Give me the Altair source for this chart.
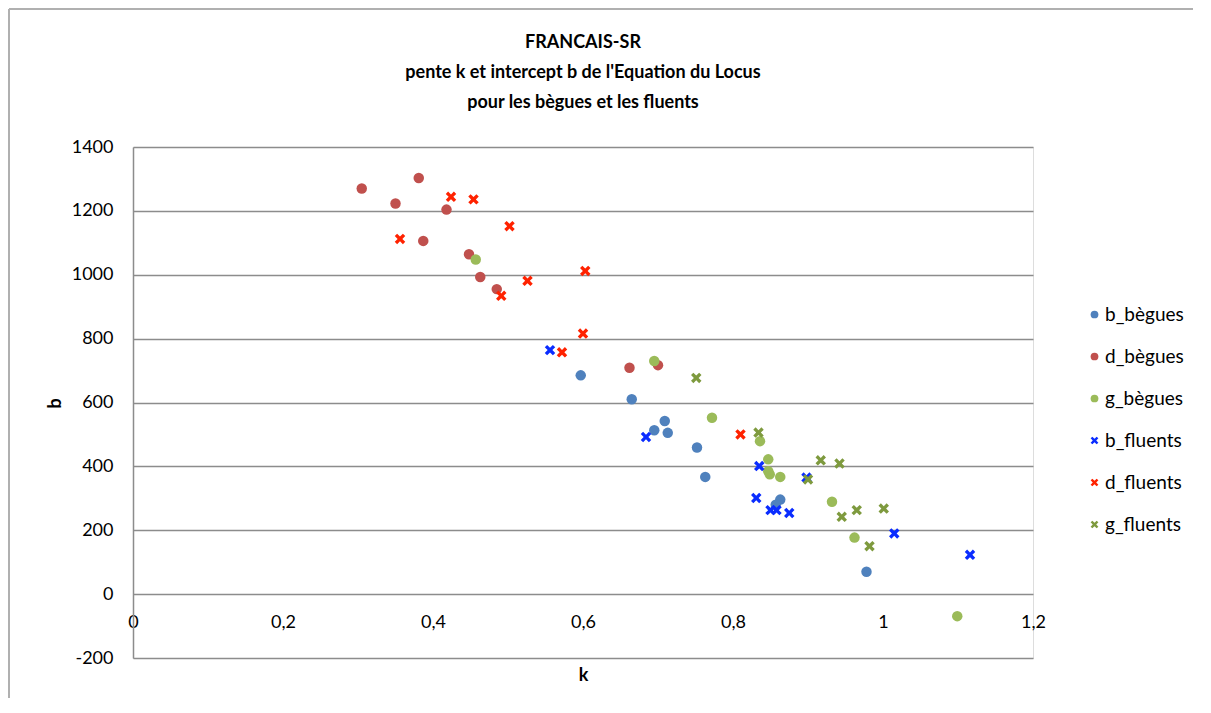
import altair as alt
import pandas as pd

# ---- data ----
b_begues_k = [0.597, 0.665, 0.709, 0.695, 0.713, 0.752, 0.763, 0.863, 0.857, 0.978]
b_begues_b = [685, 610, 542, 513, 505, 459, 367, 296, 280, 70]

d_begues_k = [0.305, 0.381, 0.350, 0.418, 0.387, 0.448, 0.463, 0.485, 0.662, 0.700]
d_begues_b = [1270, 1303, 1223, 1204, 1106, 1064, 993, 955, 709, 717]

g_begues_k = [0.457, 0.695, 0.772, 0.836, 0.847, 0.847, 0.849, 0.863, 0.932, 0.962, 1.099]
g_begues_b = [1048, 730, 552, 479, 422, 385, 375, 367, 289, 177, -69]

b_fluents_k = [0.556, 0.684, 0.835, 0.898, 0.831, 0.850, 0.858, 0.875, 1.015, 1.116]
b_fluents_b = [764, 492, 401, 365, 301, 263, 263, 254, 190, 123]

d_fluents_k = [0.424, 0.454, 0.502, 0.356, 0.603, 0.526, 0.491, 0.600, 0.572, 0.810]
d_fluents_b = [1244, 1236, 1152, 1112, 1012, 981, 934, 816, 757, 500]

g_fluents_k = [0.751, 0.834, 0.917, 0.942, 0.900, 0.965, 0.945, 1.001, 0.982]
g_fluents_b = [677, 506, 419, 409, 359, 263, 242, 268, 150]

series_names = ["b_bègues", "d_bègues", "g_bègues", "b_fluents", "d_fluents", "g_fluents"]
series_k = [b_begues_k, d_begues_k, g_begues_k, b_fluents_k, d_fluents_k, g_fluents_k]
series_b = [b_begues_b, d_begues_b, g_begues_b, b_fluents_b, d_fluents_b, g_fluents_b]
series_colors = ["#4F81BD", "#C0504D", "#9BBB59", "#0A2CFF", "#FF2200", "#7E9A3E"]

x_ticks = [0, 0.2, 0.4, 0.6, 0.8, 1.0, 1.2]
y_ticks = [-200, 0, 200, 400, 600, 800, 1000, 1200, 1400]

title_lines = ["FRANCAIS-SR",
               "pente k et intercept b de l'Equation du Locus",
               "pour les bègues et les fluents"]

rows = []
for name, ks, bs in zip(series_names, series_k, series_b):
    for k, b in zip(ks, bs):
        rows.append({"k": k, "b": b, "serie": name})
df = pd.DataFrame(rows)

title_df = pd.DataFrame({"line": title_lines, "i": [0, 1, 2]})

X_PATH = ("M-1,-0.55L-0.55,-1L0,-0.45L0.55,-1L1,-0.55L0.45,0L1,0.55L0.55,1"
          "L0,0.45L-0.55,1L-1,0.55L-0.45,0Z")
shapes = ["circle", "circle", "circle", X_PATH, X_PATH, X_PATH]

FONT = "Lato"
GRID = "#8c8c8c"

points = alt.Chart(df).mark_point(filled=True, opacity=1, size=110).encode(
    x=alt.X("k:Q", scale=alt.Scale(domain=[0, 1.2], nice=False, zero=False),
            axis=alt.Axis(values=x_ticks, labelExpr="replace(toString(datum.value), '.', ',')",
                          grid=False, domain=False, ticks=False, offset=-64, labelFlush=False,
                          labelPadding=19, labelFontSize=18, labelFont=FONT, labelColor="#000",
                          title="k", titleFont=FONT, titleFontSize=18, titleFontWeight="bold",
                          titleColor="#000", titleY=81, titleBaseline="middle")),
    y=alt.Y("b:Q", scale=alt.Scale(domain=[-200, 1400], nice=False, zero=False),
            axis=alt.Axis(values=y_ticks, labelExpr="toString(datum.value)",
                          grid=True, gridColor=GRID, gridWidth=1.5,
                          domain=True, domainColor=GRID, domainWidth=1.5, ticks=False,
                          labelPadding=20, labelFontSize=18, labelFont=FONT, labelColor="#000",
                          title="b", titleFont=FONT, titleFontSize=18, titleFontWeight="bold",
                          titleColor="#000", titleX=-78, titleY=256, titleAngle=-90,
                          titleBaseline="middle", titleAlign="center")),
    color=alt.Color("serie:N", scale=alt.Scale(domain=series_names, range=series_colors),
                    legend=alt.Legend(title=None, orient="none", legendX=952, legendY=158,
                                      labelFont=FONT, labelFontSize=19, labelColor="#000",
                                      symbolSize=60, rowPadding=22, labelOffset=1,
                                      symbolStrokeWidth=0, padding=0)),
    shape=alt.Shape("serie:N", scale=alt.Scale(domain=series_names, range=shapes), legend=None),
)

title_text = alt.Chart(title_df).mark_text(
    font=FONT, fontSize=18, fontWeight="bold", color="#000", baseline="middle", align="center"
).encode(
    text="line:N",
    x=alt.value(450),
    y=alt.Y("i:Q", scale=alt.Scale(domain=[0, 2], range=[-104, -44], zero=False, nice=False),
            axis=None),
)

frame_df = pd.DataFrame({"a": [0]})
top_line = alt.Chart(frame_df).mark_rule(color="#b0b0b0", strokeWidth=2).encode(
    x=alt.value(-124), x2=alt.value(1100), y=alt.value(-138))
left_line = alt.Chart(frame_df).mark_rule(color="#b0b0b0", strokeWidth=2).encode(
    x=alt.value(-124), y=alt.value(-138), y2=alt.value(600))

chart = alt.layer(top_line, left_line, title_text, points).resolve_scale(y="independent").properties(
    width=900, height=511,
    autosize=alt.AutoSizeParams(type="none"),
    padding={"left": 125, "top": 139, "right": 160, "bottom": 40},
).configure_view(stroke=None).configure(background="white")

chart.save("out.html", embed_options={"renderer": "svg", "actions": False})
